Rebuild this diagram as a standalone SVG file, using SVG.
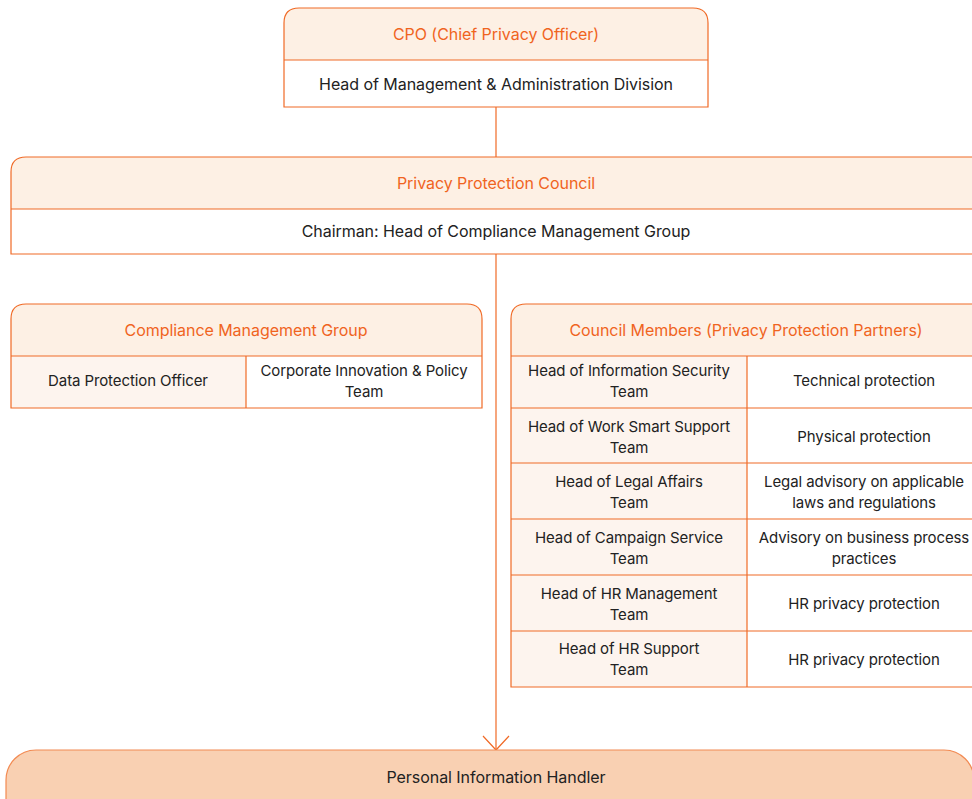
<svg xmlns="http://www.w3.org/2000/svg" width="972" height="799" viewBox="0 0 972 799">
  <style>
    .box { stroke: #F06A26; stroke-width: 1.2; }
    .hdr { fill: #FDF0E4; }
    .body { fill: #FFFFFF; }
    .cell { fill: #FDF4EE; }
    .ln { stroke: #F06A26; stroke-width: 1.2; fill: none; }
    text { font-family: Inter, "Noto Sans", "Liberation Sans", sans-serif; font-size: 16px; text-anchor: middle; letter-spacing: -0.05px; }
    .title { fill: #F0641E; }
    .txt { fill: #222222; }
    .sm { font-size: 15px; letter-spacing: -0.1px; }
  </style>

  <!-- connectors -->
  <g id="connectors">
    <line class="ln" x1="496" y1="107" x2="496" y2="157"/>
    <line class="ln" x1="496" y1="254" x2="496" y2="750"/>
    <path class="ln" d="M483,736 L496,750 L509,736"/>
  </g>

  <!-- CPO -->
  <g id="cpo">
    <path class="hdr" d="M284,60 V23 Q284,8 299,8 H693 Q708,8 708,23 V60 Z"/>
    <rect class="body" x="284" y="60" width="424" height="47"/>
    <path class="box" fill="none" d="M284,107 V23 Q284,8 299,8 H693 Q708,8 708,23 V107 Z"/>
    <line class="ln" x1="284" y1="60" x2="708" y2="60"/>
    <text class="title" x="496" y="40">CPO (Chief Privacy Officer)</text>
    <text class="txt" x="496" y="90">Head of Management &amp; Administration Division</text>
  </g>

  <!-- Privacy Protection Council -->
  <g id="council">
    <path class="hdr" d="M11,209 V172 Q11,157 26,157 H980 V209 Z"/>
    <rect class="body" x="11" y="209" width="970" height="45"/>
    <path class="box" fill="none" d="M980,254 H11 V172 Q11,157 26,157 H980"/>
    <line class="ln" x1="11" y1="209" x2="980" y2="209"/>
    <text class="title" x="496" y="189">Privacy Protection Council</text>
    <text class="txt" x="496" y="237">Chairman: Head of Compliance Management Group</text>
  </g>

  <!-- Compliance Management Group -->
  <g id="compliance">
    <path class="hdr" d="M11,356 V319 Q11,304 26,304 H467 Q482,304 482,319 V356 Z"/>
    <rect class="cell" x="11" y="356" width="235" height="52"/>
    <rect class="body" x="246" y="356" width="236" height="52"/>
    <path class="box" fill="none" d="M11,408 V319 Q11,304 26,304 H467 Q482,304 482,319 V408 Z"/>
    <line class="ln" x1="11" y1="356" x2="482" y2="356"/>
    <line class="ln" x1="246" y1="356" x2="246" y2="408"/>
    <text class="title" x="246" y="336">Compliance Management Group</text>
    <text class="txt sm" x="128" y="386">Data Protection Officer</text>
    <text class="txt sm" x="364" y="376">Corporate Innovation &amp; Policy</text>
    <text class="txt sm" x="364" y="397">Team</text>
  </g>

  <!-- Council Members -->
  <g id="members">
    <path class="hdr" d="M511,356 V319 Q511,304 526,304 H980 V356 Z"/>
    <rect class="cell" x="511" y="356" width="236" height="331"/>
    <rect class="body" x="747" y="356" width="233" height="331"/>
    <path class="box" fill="none" d="M980,687 H511 V319 Q511,304 526,304 H980"/>
    <line class="ln" x1="511" y1="356" x2="980" y2="356"/>
    <line class="ln" x1="747" y1="356" x2="747" y2="687"/>
    <line class="ln" x1="511" y1="408" x2="980" y2="408"/>
    <line class="ln" x1="511" y1="463" x2="980" y2="463"/>
    <line class="ln" x1="511" y1="519" x2="980" y2="519"/>
    <line class="ln" x1="511" y1="575" x2="980" y2="575"/>
    <line class="ln" x1="511" y1="631" x2="980" y2="631"/>
    <text class="title" x="746" y="336">Council Members (Privacy Protection Partners)</text>

    <text class="txt sm" x="629" y="376">Head of Information Security</text>
    <text class="txt sm" x="629" y="397">Team</text>
    <text class="txt sm" x="864" y="386">Technical protection</text>

    <text class="txt sm" x="629" y="432">Head of Work Smart Support</text>
    <text class="txt sm" x="629" y="453">Team</text>
    <text class="txt sm" x="864" y="442">Physical protection</text>

    <text class="txt sm" x="629" y="487">Head of Legal Affairs</text>
    <text class="txt sm" x="629" y="508">Team</text>
    <text class="txt sm" x="864" y="487">Legal advisory on applicable</text>
    <text class="txt sm" x="864" y="508">laws and regulations</text>

    <text class="txt sm" x="629" y="543">Head of Campaign Service</text>
    <text class="txt sm" x="629" y="564">Team</text>
    <text class="txt sm" x="864" y="543">Advisory on business process</text>
    <text class="txt sm" x="864" y="564">practices</text>

    <text class="txt sm" x="629" y="599">Head of HR Management</text>
    <text class="txt sm" x="629" y="620">Team</text>
    <text class="txt sm" x="864" y="609">HR privacy protection</text>

    <text class="txt sm" x="629" y="654">Head of HR Support</text>
    <text class="txt sm" x="629" y="675">Team</text>
    <text class="txt sm" x="864" y="665">HR privacy protection</text>
  </g>

  <!-- Personal Information Handler -->
  <g id="handler">
    <rect x="6" y="750" width="968" height="80" rx="30" ry="30" fill="#F9D0B2" stroke="#F28A52" stroke-width="1.2"/>
    <text class="txt" x="496" y="783">Personal Information Handler</text>
  </g>
</svg>
